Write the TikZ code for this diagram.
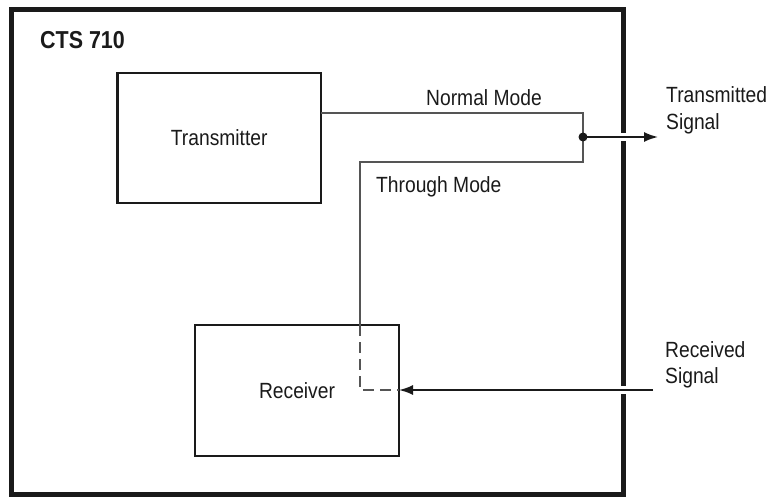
\documentclass[tikz,border=0pt]{standalone}
\usepackage{fontspec}
\setmainfont[FakeStretch=0.875]{Liberation Sans}
\usetikzlibrary{arrows.meta}
\definecolor{ink}{HTML}{1A1A1A}
\definecolor{wire}{HTML}{555555}
\tikzset{
  blockbox/.style={draw=ink, line width=2.3pt, outer sep=0pt, inner sep=0pt, fill=white,
    font=\fontsize{22}{26.5}\selectfont, text=ink},
  wireline/.style={draw=wire, line width=1.3pt},
  dashwire/.style={draw=wire, line width=1.3pt, dash pattern=on 11pt off 6pt},
  sigline/.style={draw=ink, line width=1.8pt, -{Latex[length=14pt,width=10pt]}},
  lbl/.style={inner sep=0pt, text=ink, font=\fontsize{22}{26.5}\selectfont, align=left},
}
\begin{document}
\begin{tikzpicture}[x=1pt,y=-1pt]
\useasboundingbox (0,0) rectangle (770,497);
% outer frame
\draw[draw=ink, line width=5pt] (11.5,9.5) rectangle (623.5,494);
\node[lbl, anchor=base west, font=\fontsize{24.5}{28}\selectfont\bfseries] (title) at (40,49) {CTS 710};
% blocks
\node[blockbox, minimum width=203.5pt, minimum height=130pt] (tx) at (219.25,138) {Transmitter};
\node[blockbox, minimum width=204pt, minimum height=131pt] (rx) at (297,390.5) {Receiver};
% coordinates
\coordinate (nm) at (583,113);
\coordinate (thr) at (583,162);
\coordinate (thl) at (360,162);
\coordinate (j) at (583,137);
\coordinate (ts) at (658,137);
\coordinate (rs) at (653,390);
% mode wiring
\draw[wireline] (tx.east |- nm) -- (nm) -- (thr) -- (thl) -- (rx.north -| thl);
\draw[dashwire] (rx.north -| thl) -- (thl |- rs) -- (rx.east |- rs);
% gaps in frame
\fill[white] (620,133) rectangle (627,141);
\fill[white] (620,386) rectangle (627,394);
% signals
\fill[ink] (j) circle (4.5pt);
\draw[sigline] (j) -- (ts);
\draw[sigline] (rs) -- (rx.east |- rs);
% labels
\node[lbl, anchor=base west] (nml) at (426,106) {Normal Mode};
\node[lbl, anchor=base west] (thml) at (376,192) {Through Mode};
\node[lbl, anchor=base west] (tsl) at (666,129.5) {Transmitted\\Signal};
\node[lbl, anchor=base west] (rsl) at (665,383.5) {Received\\Signal};
\end{tikzpicture}
\end{document}
